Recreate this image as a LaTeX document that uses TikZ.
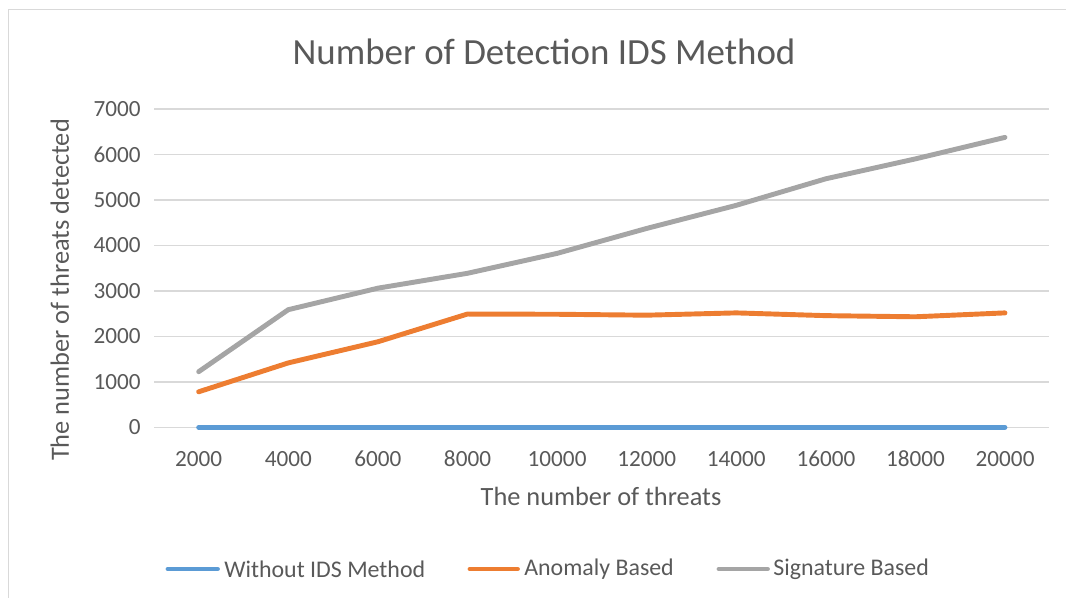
\documentclass[tikz,border=0pt]{standalone}
\usepackage{fontspec}
\setmainfont{Carlito}
\usetikzlibrary{positioning,calc}
\definecolor{txtgray}{HTML}{595959}
\definecolor{gridgray}{HTML}{D9D9D9}
\definecolor{serblue}{HTML}{5B9BD5}
\definecolor{serorange}{HTML}{ED7D31}
\definecolor{sergray}{HTML}{A5A5A5}
\tikzset{
  frameline/.style={draw=gridgray,line width=1.1pt},
  gridline/.style={draw=gridgray,line width=0.8pt},
  serline/.style={line width=2.8pt,line cap=round,line join=round},
  serA/.style={serline,draw=serblue},
  serB/.style={serline,draw=serorange},
  serC/.style={serline,draw=sergray},
  ticklbl/.style={text=txtgray,inner sep=0pt,font=\fontsize{13.2}{15}\selectfont},
  axtitle/.style={text=txtgray,inner sep=0pt,font=\fontsize{15}{17}\selectfont},
  legtxt/.style={text=txtgray,inner sep=0pt,anchor=west,font=\fontsize{13.6}{15}\selectfont},
}
% category centre and value height, in pixels
\newcommand{\catx}[1]{198.7+89.6*(#1-1)}
\newcommand{\valy}[1]{427.3-45.47*#1}

\begin{document}
\begin{tikzpicture}[x=0.02cm,y=-0.02cm]
  \useasboundingbox (0,0) rectangle (1066,598);
  \draw[frameline] (8.5,600) -- (8.5,9.5) -- (1070,9.5);

  % title
  \node[text=txtgray,inner sep=0pt,anchor=base,font=\fontsize{21}{24}\selectfont]
    (title) at (544,64.5) {Number of Detection IDS Method};

  % grid and y ticks
  \foreach \v in {0,...,7} {
    \draw[gridline] (154,{\valy{\v}}) -- (1049,{\valy{\v}});
    \node[ticklbl,anchor=east] (ytick\v) at (141,{\valy{\v}}) {\ifnum\v=0 0\else\v000\fi};
  }
  % x ticks
  \foreach \n [count=\i] in {2000,4000,6000,8000,10000,12000,14000,16000,18000,20000}
    \node[ticklbl,anchor=base] (xtick\i) at ({\catx{\i}},466.5) {\n};

  % axis titles
  \node[axtitle,anchor=base] (xtitle) at (601,505) {The number of threats};
  \node[axtitle,anchor=base,rotate=90] (ytitle) at (69,290) {The number of threats detected};

  % series
  \begin{scope}[shift={(109.1,427.3)},x=1.792cm,y=0.0009094cm]
    \draw[serA] plot coordinates {(1,0) (2,0) (3,0) (4,0) (5,0) (6,0) (7,0) (8,0) (9,0) (10,0)};
    \draw[serB] plot coordinates {(1,776) (2,1407) (3,1869) (4,2475) (5,2470)
      (6,2450) (7,2500) (8,2440) (9,2415) (10,2500)};
    \draw[serC] plot coordinates {(1,1215) (2,2570) (3,3040) (4,3365) (5,3800)
      (6,4345) (7,4850) (8,5430) (9,5865) (10,6335)};
  \end{scope}

  % legend
  \node[legtxt] (legA) at (224,569) {Without IDS Method};
  \node[legtxt] (legB) at (524,569) {Anomaly Based};
  \node[legtxt] (legC) at (773,569) {Signature Based};
  \draw[serA] ($(legA.west)+(-56,0)$) -- ($(legA.west)+(-6.5,0)$);
  \draw[serB] ($(legB.west)+(-54,0)$) -- ($(legB.west)+(-6.5,0)$);
  \draw[serC] ($(legC.west)+(-54,0)$) -- ($(legC.west)+(-5.5,0)$);
\end{tikzpicture}
\end{document}
